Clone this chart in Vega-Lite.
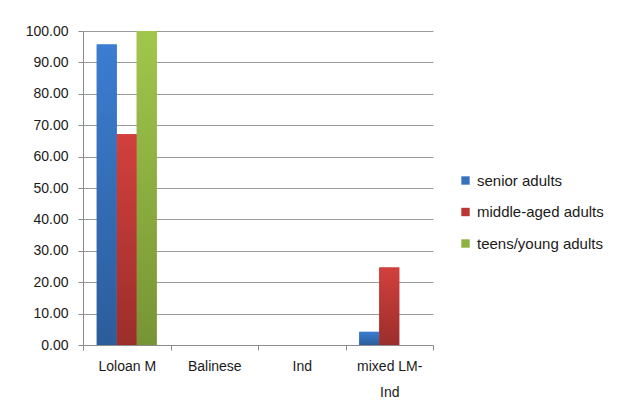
{
  "$schema": "https://vega.github.io/schema/vega-lite/v6.json",
  "autosize": {"type": "none"},
  "width": 350,
  "height": 314,
  "padding": {"left": 83, "top": 31, "right": 189, "bottom": 58},
  "background": "white",
  "config": {
    "font": "Liberation Sans",
    "view": {"stroke": null},
    "axis": {
      "labelFont": "Liberation Sans",
      "labelFontSize": 14,
      "labelColor": "#1a1a1a",
      "domainColor": "#8c8c8c",
      "tickColor": "#8c8c8c",
      "gridColor": "#9a9a9a",
      "domainWidth": 1,
      "tickWidth": 1,
      "gridWidth": 1,
      "title": null
    },
    "legend": {
      "labelFont": "Liberation Sans",
      "labelFontSize": 15,
      "labelColor": "#1a1a1a"
    }
  },
  "data": {
    "values": [
      {"category": "Loloan M", "group": "senior adults", "value": 95.7},
      {"category": "Loloan M", "group": "middle-aged adults", "value": 67.1},
      {"category": "Loloan M", "group": "teens/young adults", "value": 100},
      {"category": "Balinese", "group": "senior adults", "value": 0},
      {"category": "Balinese", "group": "middle-aged adults", "value": 0},
      {"category": "Balinese", "group": "teens/young adults", "value": 0},
      {"category": "Ind", "group": "senior adults", "value": 0},
      {"category": "Ind", "group": "middle-aged adults", "value": 0},
      {"category": "Ind", "group": "teens/young adults", "value": 0},
      {"category": "mixed LM-Ind", "group": "senior adults", "value": 4.2},
      {"category": "mixed LM-Ind", "group": "middle-aged adults", "value": 24.7},
      {"category": "mixed LM-Ind", "group": "teens/young adults", "value": 0}
    ]
  },
  "encoding": {
    "x": {
      "field": "category",
      "type": "nominal",
      "sort": ["Loloan M", "Balinese", "Ind", "mixed LM-Ind"],
      "scale": {"paddingInner": 0, "paddingOuter": 0},
      "axis": {
        "labelAngle": 0,
        "tickBand": "extent",
        "tickSize": 5,
        "labelPadding": 9,
        "labelLineHeight": 26,
        "labelBaseline": "top",
        "labelExpr": "datum.value == 'mixed LM-Ind' ? ['mixed LM-', 'Ind'] : datum.value"
      }
    },
    "xOffset": {
      "field": "group",
      "type": "nominal",
      "sort": ["senior adults", "middle-aged adults", "teens/young adults"],
      "scale": {
        "domain": ["senior adults", "middle-aged adults", "teens/young adults"],
        "paddingInner": 0,
        "paddingOuter": 0.6875
      }
    },
    "y": {
      "field": "value",
      "type": "quantitative",
      "scale": {"domain": [0, 100], "nice": false},
      "axis": {
        "values": [0, 10, 20, 30, 40, 50, 60, 70, 80, 90, 100],
        "format": ".2f",
        "tickSize": 5,
        "labelPadding": 10,
        "grid": true
      }
    }
  },
  "layer": [
    {
      "mark": {"type": "bar"},
      "encoding": {
        "color": {
          "field": "group",
          "type": "nominal",
          "sort": ["senior adults", "middle-aged adults", "teens/young adults"],
          "scale": {
            "domain": ["senior adults", "middle-aged adults", "teens/young adults"],
            "range": ["#3a71bd", "#bb3633", "#8cb140"]
          },
          "legend": {
            "title": null,
            "orient": "none",
            "legendX": 375,
            "legendY": 142,
            "symbolType": "square",
            "symbolSize": 70,
            "symbolStrokeWidth": 0,
            "labelOffset": 4,
            "rowPadding": 15.5
          }
        }
      }
    },
    {
      "transform": [{"filter": "datum.group == 'senior adults'"}],
      "mark": {
        "type": "bar",
        "color": {
          "gradient": "linear", "x1": 0, "y1": 0, "x2": 0, "y2": 1,
          "stops": [{"offset": 0, "color": "#3b7dd2"}, {"offset": 1, "color": "#2c5d9a"}]
        }
      }
    },
    {
      "transform": [{"filter": "datum.group == 'middle-aged adults'"}],
      "mark": {
        "type": "bar",
        "color": {
          "gradient": "linear", "x1": 0, "y1": 0, "x2": 0, "y2": 1,
          "stops": [{"offset": 0, "color": "#d2403d"}, {"offset": 1, "color": "#9b2e2b"}]
        }
      }
    },
    {
      "transform": [{"filter": "datum.group == 'teens/young adults'"}],
      "mark": {
        "type": "bar",
        "color": {
          "gradient": "linear", "x1": 0, "y1": 0, "x2": 0, "y2": 1,
          "stops": [{"offset": 0, "color": "#a0c74c"}, {"offset": 1, "color": "#779434"}]
        }
      }
    }
  ]
}
